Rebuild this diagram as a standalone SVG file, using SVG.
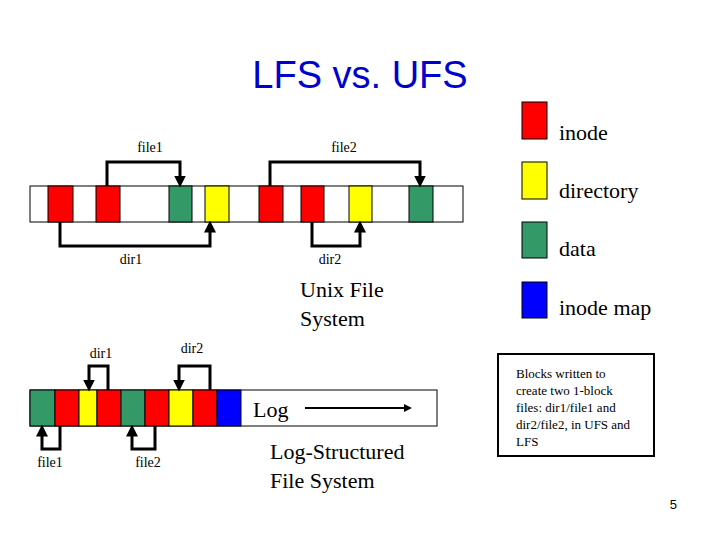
<svg xmlns="http://www.w3.org/2000/svg" width="720" height="540" viewBox="0 0 720 540">
<style>
.t{font-family:"Liberation Serif",serif;fill:#000}
.s{font-size:14px}
.b{stroke:#000;stroke-width:1}
.r{fill:#ff0000}.y{fill:#ffff00}.g{fill:#339966}.bl{fill:#0000ff}
.c{fill:none;stroke:#000;stroke-width:3;marker-end:url(#a)}
</style>
<defs><marker id="a" markerWidth="4" markerHeight="4" refX="2.5" refY="2" orient="auto"><path d="M0,0L4,2L0,4z" fill="#000"/></marker></defs>
<rect width="720" height="540" fill="#fff"/>
<text x="360" y="88" text-anchor="middle" font-family="Liberation Sans,sans-serif" font-size="38" fill="#0000cc">LFS vs. UFS</text>
<g id="ufs">
<rect x="30" y="186" width="433" height="36" fill="#fff" class="b"/>
<rect x="48" y="186" width="25" height="36" class="r b"/>
<rect x="96" y="186" width="24" height="36" class="r b"/>
<rect x="169" y="186" width="23" height="36" class="g b"/>
<rect x="205" y="186" width="24" height="36" class="y b"/>
<rect x="259" y="186" width="24" height="36" class="r b"/>
<rect x="301" y="186" width="23" height="36" class="r b"/>
<rect x="349" y="186" width="23" height="36" class="y b"/>
<rect x="409" y="186" width="24" height="36" class="g b"/>
<text x="150" y="152" text-anchor="middle" class="t s">file1</text>
<text x="344" y="152" text-anchor="middle" class="t s">file2</text>
<text x="131" y="264" text-anchor="middle" class="t s">dir1</text>
<text x="330" y="264" text-anchor="middle" class="t s">dir2</text>
<text x="300" y="297" class="t" font-size="22">Unix File</text>
<text x="300" y="326" class="t" font-size="22">System</text>
</g>
<g id="lfs">
<rect x="30" y="390" width="407" height="36" fill="#fff" class="b"/>
<rect x="30" y="390" width="25" height="36" class="g b"/>
<rect x="55" y="390" width="24" height="36" class="r b"/>
<rect x="79" y="390" width="18" height="36" class="y b"/>
<rect x="97" y="390" width="24" height="36" class="r b"/>
<rect x="121" y="390" width="24" height="36" class="g b"/>
<rect x="145" y="390" width="24" height="36" class="r b"/>
<rect x="169" y="390" width="24" height="36" class="y b"/>
<rect x="193" y="390" width="24" height="36" class="r b"/>
<rect x="217" y="390" width="24" height="36" class="bl b"/>
<text x="253" y="417" class="t" font-size="22">Log</text>
<text x="101" y="358" text-anchor="middle" class="t s">dir1</text>
<text x="192" y="353" text-anchor="middle" class="t s">dir2</text>
<text x="50" y="467" text-anchor="middle" class="t s">file1</text>
<text x="148" y="467" text-anchor="middle" class="t s">file2</text>
<text x="270" y="459" class="t" font-size="22">Log-Structured</text>
<text x="270" y="488" class="t" font-size="22">File System</text>
</g>
<g id="connectors">
<path class="c" d="M107,186V162H180V183"/>
<path class="c" d="M270,186V162H420V183"/>
<path class="c" d="M60,222V246H210V225"/>
<path class="c" d="M312,222V246H360V225"/>
<path class="c" d="M108,390V366H89V387"/>
<path class="c" d="M210,390V366H179V387"/>
<path class="c" d="M60,426V449H42V429"/>
<path class="c" d="M155,426V449H132V429"/>
<path class="c" d="M305,408H409" style="stroke-width:2"/>
</g>
<g id="legend">
<rect x="522" y="102" width="25" height="37" class="r b"/>
<rect x="522" y="162" width="25" height="37" class="y b"/>
<rect x="522" y="222" width="25" height="36" class="g b"/>
<rect x="522" y="282" width="25" height="36" class="bl b"/>
<text x="559" y="140" class="t" font-size="22">inode</text>
<text x="559" y="198" class="t" font-size="22">directory</text>
<text x="559" y="256" class="t" font-size="22">data</text>
<text x="559" y="315" class="t" font-size="22">inode map</text>
</g>
<g id="note">
<rect x="498" y="354" width="156" height="102" fill="#fff" stroke="#000" stroke-width="2"/>
<text class="t" font-size="13"><tspan x="516" y="378">Blocks written to</tspan><tspan x="516" y="395">create two 1-block</tspan><tspan x="516" y="412">files: dir1/file1 and</tspan><tspan x="516" y="429">dir2/file2, in UFS and</tspan><tspan x="516" y="446">LFS</tspan></text>
</g>
<text x="677" y="509" text-anchor="end" font-family="Liberation Sans,sans-serif" font-size="13">5</text>
</svg>
